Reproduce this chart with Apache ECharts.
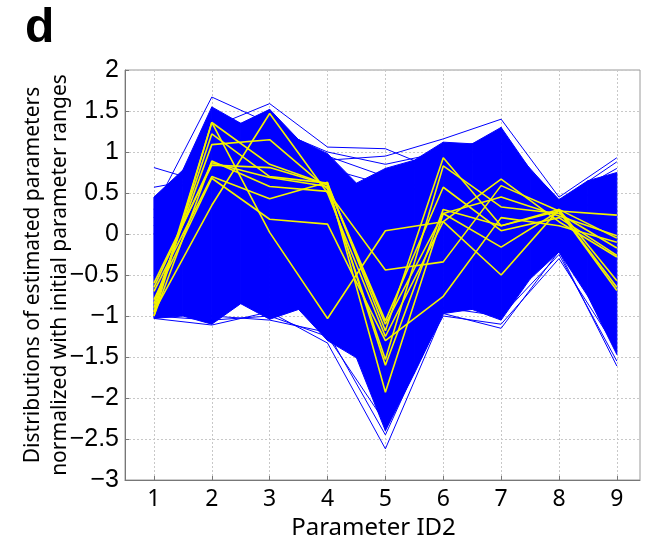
<!DOCTYPE html>
<html>
<head>
<meta charset="utf-8">
<script src="https://cdn.jsdelivr.net/npm/echarts@6/dist/echarts.min.js"></script>
<style>
  html, body { margin: 0; padding: 0; background: #fff; }
  #chart { width: 653px; height: 545px; }
</style>
</head>
<body>
<div id="chart"></div>
<script>
// parameter axes
var paramIds = [1, 2, 3, 4, 5, 6, 7, 8, 9];
var yTicks = [-3, -2.5, -2, -1.5, -1, -0.5, 0, 0.5, 1, 1.5, 2];

// envelope of the dense blue bundle, read at whole and half positions
var envX = [1, 1.5, 2, 2.5, 3, 3.5, 4, 4.5, 5, 5.5, 6, 6.5, 7, 7.5, 8, 8.5, 9];
var envUpper = [0.45, 0.78, 1.55, 1.35, 1.52, 1.15, 0.98, 0.62, 0.80, 0.90, 1.12, 1.10, 1.30, 0.79, 0.42, 0.65, 0.75];
var envLower = [-1.03, -1.00, -1.10, -0.85, -1.04, -0.92, -1.30, -1.51, -2.40, -1.70, -0.97, -0.92, -1.05, -0.55, -0.22, -0.76, -1.47];

// individual blue runs standing out at the edges of the bundle
var blueRuns = [
  [0.81, 0.60, 0.70, 0.80, 0.60, 0.50, 0.40, 0.20, 0.30],
  [0.57, 0.70, 0.90, 0.60, 0.50, 0.70, 0.60, 0.30, 0.40],
  [0.30, 1.67, 1.35, 0.95, 0.70, 0.90, 1.10, 0.35, 0.60],
  [0.20, 1.30, 1.59, 1.06, 1.04, 0.75, 1.00, 0.40, 0.80],
  [0.10, 1.10, 1.20, 0.90, 0.95, 1.16, 1.40, 0.45, 0.93],
  [0.00, 1.40, 1.30, 1.00, 0.85, 1.00, 1.20, 0.40, 0.88],
  [-1.03, -1.11, -0.95, -1.33, -2.62, -0.97, -1.15, -0.21, -1.61],
  [-0.90, -1.00, -1.05, -1.20, -2.45, -0.90, -1.00, -0.25, -1.55],
  [-1.00, -1.05, -1.00, -1.25, -2.30, -1.00, -1.10, -0.30, -1.40]
];

// highlighted (yellow) runs
var yellowRuns = [
  [-0.95, 1.36, 0.85, 0.60, -1.10, 0.25, 0.45, 0.22, -0.02],
  [-0.90, 1.22, 0.70, 0.62, -1.18, 0.93, 0.10, 0.30, -0.57],
  [-0.85, 1.09, 1.15, 0.55, -1.53, 0.83, 0.33, 0.25, -0.17],
  [-1.00, 0.89, 0.58, 0.52, -0.44, -0.34, 0.59, 0.28, 0.23],
  [-0.60, 0.84, 0.81, 0.60, -1.06, 0.57, 0.04, 0.20, -0.26],
  [-0.70, 0.70, 0.43, 0.63, -1.93, 0.25, -0.16, 0.28, -0.69],
  [-0.80, 0.68, 0.18, 0.12, -1.30, -0.76, 0.20, 0.10, -0.10],
  [-0.95, 0.35, 1.47, 0.50, -1.25, 0.15, 0.67, 0.15, -0.28],
  [-1.00, 1.36, 0.02, -1.03, 0.04, 0.15, -0.50, 0.30, -0.05],
  [-0.65, 0.87, 0.69, 0.58, -1.60, 0.30, 0.10, 0.28, -0.65]
];

function pairs(xs, ys) {
  return ys.map(function (v, i) { return [xs[i], v]; });
}

function fmt(v) {
  return v < 0 ? '\u2212' + Math.abs(v) : String(v);
}

// one quad per envelope segment: [x0, lo0, up0, x1, lo1, up1]
var bandSegs = [];
for (var i = 0; i < envX.length - 1; i++) {
  bandSegs.push([envX[i], envLower[i], envUpper[i], envX[i + 1], envLower[i + 1], envUpper[i + 1]]);
}

function renderBand(params, api) {
  var a = api.coord([api.value(0), api.value(1)]);
  var b = api.coord([api.value(0), api.value(2)]);
  var c = api.coord([api.value(3), api.value(5)]);
  var d = api.coord([api.value(3), api.value(4)]);
  return {
    type: 'polygon',
    shape: { points: [a, b, c, d] },
    style: { fill: '#0000ff', stroke: '#0000ff', lineWidth: 1 }
  };
}

var chart = echarts.init(document.getElementById('chart'), null, { renderer: 'canvas' });

var series = [];
series.push({
  type: 'custom',
  renderItem: renderBand,
  encode: { x: [0, 3], y: [1, 2, 4, 5] },
  data: bandSegs,
  silent: true,
  z: 1
});
blueRuns.forEach(function (run) {
  series.push({
    type: 'line',
    symbol: 'none',
    lineStyle: { width: 1, color: '#0000ff' },
    data: pairs(paramIds, run),
    z: 3
  });
});
yellowRuns.forEach(function (run) {
  series.push({
    type: 'line',
    symbol: 'none',
    lineStyle: { width: 1.6, color: '#f2f200' },
    data: pairs(paramIds, run),
    z: 4
  });
});

var option = {
  animation: false,
  title: {
    text: 'd',
    left: 20,
    top: 0,
    textStyle: { fontSize: 48, fontWeight: 'bold', color: '#000', fontFamily: 'Liberation Sans' }
  },
  grid: {
    left: 125,
    right: 13,
    top: 70,
    bottom: 62,
    show: true,
    borderColor: '#9a9a9a',
    borderWidth: 1,
    backgroundColor: '#fff'
  },
  xAxis: {
    type: 'value',
    min: 0.5,
    max: 9.4,
    name: 'Parameter ID2',
    nameLocation: 'middle',
    nameGap: 36,
    nameMoveOverlap: false,
    nameTextStyle: { fontSize: 24, color: '#000', fontFamily: 'Noto Sans', padding: [0, 18, 0, 0] },
    axisLine: { show: true, onZero: false, lineStyle: { color: '#777' } },
    axisTick: { show: true, inside: true, length: 4, customValues: paramIds, lineStyle: { color: '#777' } },
    axisLabel: { customValues: paramIds, fontSize: 23, color: '#000', margin: 8, fontFamily: 'Noto Sans' },
    splitLine: { show: true, lineStyle: { color: '#c8c8c8', type: [2, 2] } }
  },
  yAxis: {
    type: 'value',
    min: -3,
    max: 2,
    interval: 0.5,
    name: 'Distributions of estimated parameters\nnormalized with initial parameter ranges',
    nameLocation: 'middle',
    nameGap: 51,
    nameMoveOverlap: false,
    nameTextStyle: { fontSize: 21, color: '#000', lineHeight: 27, fontFamily: 'Noto Sans' },
    axisLine: { show: true, onZero: false, lineStyle: { color: '#777' } },
    axisTick: { show: true, inside: true, length: 4, lineStyle: { color: '#777' } },
    axisLabel: { formatter: fmt, fontSize: 25, color: '#000', margin: 6, fontFamily: 'Liberation Sans' },
    splitLine: { show: true, lineStyle: { color: '#c8c8c8', type: [2, 2] } }
  },
  series: series
};

chart.setOption(option);
</script>
</body>
</html>
